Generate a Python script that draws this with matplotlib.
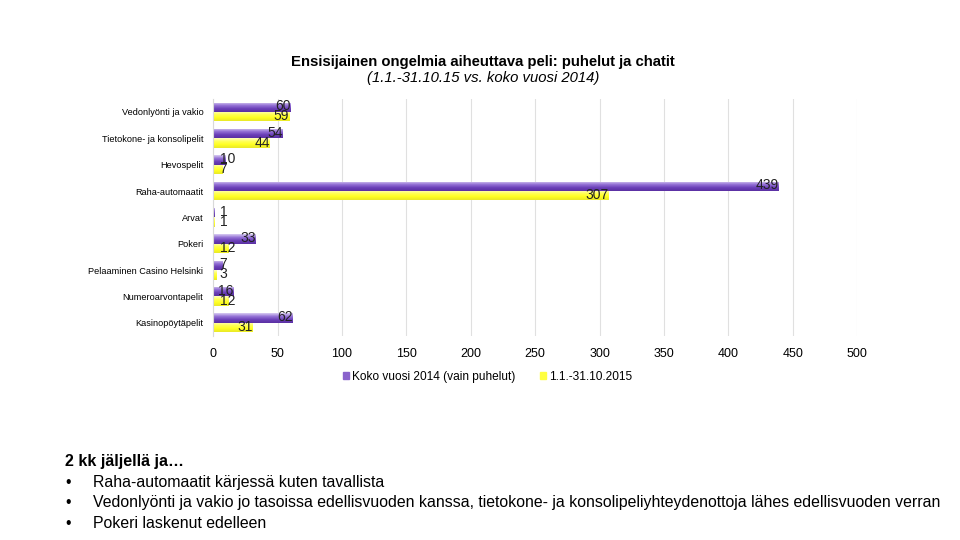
import numpy as np
import matplotlib.pyplot as plt
from matplotlib.colors import LinearSegmentedColormap
from matplotlib.patches import Patch

plt.rcParams['font.family'] = ['Liberation Sans', 'DejaVu Sans']

categories = ["Vedonlyönti ja vakio", "Tietokone- ja konsolipelit", "Hevospelit",
              "Raha-automaatit", "Arvat", "Pokeri", "Pelaaminen Casino Helsinki",
              "Numeroarvontapelit", "Kasinopöytäpelit"]
koko_2014 = [60, 54, 10, 439, 1, 33, 7, 16, 62]
vuosi_2015 = [59, 44, 7, 307, 1, 12, 3, 12, 31]
series_names = ["Koko vuosi 2014 (vain puhelut)", "1.1.-31.10.2015"]
xticks = [0, 50, 100, 150, 200, 250, 300, 350, 400, 450, 500]

purple_cmap = LinearSegmentedColormap.from_list("p", ["#d9ccf2", "#9572d6", "#6b40b8", "#5a2fa3"])
yellow_cmap = LinearSegmentedColormap.from_list("y", ["#ffffc0", "#ffff55", "#ffff20", "#e8e82a"])

fig = plt.figure(figsize=(9.6, 5.4), dpi=100)
ax = fig.add_axes([0.222, 0.378, 0.671, 0.439])

n = len(categories)
ypos = np.arange(n)[::-1]
h = 0.36
grad = np.linspace(0, 1, 64).reshape(-1, 1)

def gbar(y, vals, cmap):
    bars = ax.barh(y, vals, height=h, color='none', edgecolor='none')
    for b in bars:
        x0, y0 = b.get_x(), b.get_y()
        w, hh = b.get_width(), b.get_height()
        im = ax.imshow(grad, cmap=cmap, aspect='auto', origin='upper',
                       extent=(x0, x0 + w, y0, y0 + hh), zorder=2)
        im.set_clip_path(b)
    return bars

gbar(ypos + h / 2, koko_2014, purple_cmap)
gbar(ypos - h / 2, vuosi_2015, yellow_cmap)

# value labels: inside end, or at the base when the bar is too short
for y, v1, v2 in zip(ypos, koko_2014, vuosi_2015):
    for yy, v in ((y + h / 2 + 0.04, v1), (y - h / 2 + 0.02, v2)):
        if v < 14:
            ax.text(5, yy, str(v), ha='left', va='center', fontsize=10, color='#222222', zorder=3)
        else:
            ax.text(v, yy, str(v), ha='right', va='center', fontsize=10, color='#222222', zorder=3)

ax.set_xlim(0, 500)
ax.set_ylim(-0.5, n - 0.5)
ax.set_xticks(xticks)
ax.set_xticklabels([str(t) for t in xticks], fontsize=9)
ax.set_yticks(ypos)
ax.set_yticklabels(categories, fontsize=6.6)
ax.tick_params(length=0, pad=7)
ax.tick_params(axis='x', pad=9)
ax.grid(axis='x', color='#e0e0e0', linewidth=0.8, zorder=0)
ax.set_axisbelow(True)
for s in ['top', 'right', 'bottom']:
    ax.spines[s].set_visible(False)
ax.spines['left'].set_color('#d9d9d9')

handles = [Patch(color='#8a63cc'), Patch(color='#ffff40')]
fig.legend(handles, series_names, loc='center', bbox_to_anchor=(0.508, 0.302), ncol=2,
           frameon=False, fontsize=8.6, handlelength=0.5, handleheight=0.5,
           handletextpad=0.3, columnspacing=2.0)

fig.text(0.503, 0.886, "Ensisijainen ongelmia aiheuttava peli: puhelut ja chatit",
         ha='center', va='center', fontsize=10.7, fontweight='bold')
fig.text(0.503, 0.855, "(1.1.-31.10.15 vs. koko vuosi 2014)",
         ha='center', va='center', fontsize=10.7, style='italic')

notes_head = "2 kk jäljellä ja…"
notes = ["Raha-automaatit kärjessä kuten tavallista",
         "Vedonlyönti ja vakio jo tasoissa edellisvuoden kanssa, tietokone- ja konsolipeliyhteydenottoja lähes edellisvuoden verran",
         "Pokeri laskenut edelleen"]
fig.text(0.068, 0.145, notes_head, fontsize=11.5, fontweight='bold', va='center')
for i, line in enumerate(notes):
    yy = 0.107 - i * 0.038
    fig.text(0.068, yy, "•", fontsize=11.4, va='center')
    fig.text(0.097, yy, line, fontsize=11.4, va='center')

plt.savefig("out.png", dpi=100)
